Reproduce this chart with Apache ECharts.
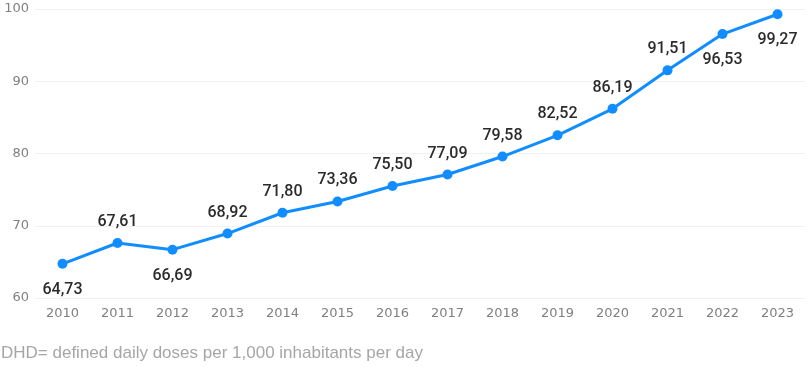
<!DOCTYPE html>
<html>
<head>
<meta charset="utf-8">
<script src="https://cdn.jsdelivr.net/npm/echarts@6/dist/echarts.min.js"></script>
<style>
  html, body { margin: 0; padding: 0; background: #fff; }
  #chart { width: 810px; height: 367px; }
</style>
</head>
<body>
<div id="chart"></div>
<script>
const years = ['2010', '2011', '2012', '2013', '2014', '2015', '2016', '2017', '2018', '2019', '2020', '2021', '2022', '2023']
const dhd = [64.73, 67.61, 66.69, 68.92, 71.80, 73.36, 75.50, 77.09, 79.58, 82.52, 86.19, 91.51, 96.53, 99.27]
// label goes under the point for these years
const labelBelow = ['2010', '2012', '2022', '2023']
const yTicks = [60, 70, 80, 90, 100]

const chart = echarts.init(document.getElementById('chart'))

const option = {
  backgroundColor: '#fff',
  animation: false,
  grid: { left: 35, right: 5, top: 9, bottom: 69 },
  graphic: [{
    type: 'text',
    left: 1,
    top: 345,
    style: {
      text: 'DHD= defined daily doses per 1,000 inhabitants per day',
      fill: '#a6a6a6',
      font: '17px "Liberation Sans", Arial, sans-serif'
    }
  }],
  xAxis: {
    type: 'category',
    data: years,
    boundaryGap: true,
    axisLine: { show: false },
    axisTick: { show: false },
    axisLabel: {
      color: '#808080',
      fontSize: 13,
      fontFamily: 'DejaVu Sans',
      margin: 9
    }
  },
  yAxis: {
    type: 'value',
    min: yTicks[0],
    max: yTicks[yTicks.length - 1],
    interval: 10,
    axisLine: { show: false },
    axisTick: { show: false },
    splitLine: { lineStyle: { color: '#f2f2f2', width: 1 } },
    axisLabel: {
      color: '#808080',
      fontSize: 13,
      fontFamily: 'DejaVu Sans',
      margin: 6
    }
  },
  series: [{
    type: 'line',
    data: dhd.map((v, i) => {
      const below = labelBelow.includes(years[i])
      return {
        value: v,
        label: { position: below ? 'bottom' : 'top', distance: below ? 13 : 8 }
      }
    }),
    symbol: 'circle',
    symbolSize: 10,
    lineStyle: { color: '#118DFF', width: 3 },
    itemStyle: { color: '#118DFF' },
    label: {
      show: true,
      color: '#2b2b2b',
      fontSize: 16,
      fontWeight: 500,
      fontFamily: 'Roboto, "DejaVu Sans"',
      formatter: p => p.value.toFixed(2).replace('.', ',')
    }
  }]
}

chart.setOption(option)
</script>
</body>
</html>
